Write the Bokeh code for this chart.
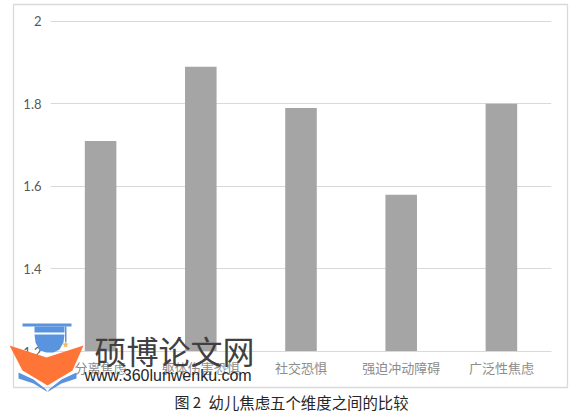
from bokeh.plotting import figure
from bokeh.embed import file_html
from bokeh.resources import INLINE
from bokeh.core.properties import value
from bokeh.models import FixedTicker, NumeralTickFormatter, Range1d

categories = ["分离焦虑", "躯体伤害恐惧", "社交恐惧", "强迫冲动障碍", "广泛性焦虑"]
values = [1.71, 1.89, 1.79, 1.58, 1.80]
y_ticks = [1.2, 1.4, 1.6, 1.8, 2.0]
caption_no = "图 2"
caption = "幼儿焦虑五个维度之间的比较"
wm_title = "硕博论文网"
wm_url = "www.360lunwenku.com"

W, H = 585, 413
PAGE_STYLE = {"position": "absolute", "left": "0px", "top": "0px"}

p = figure(width=W, height=H, x_range=categories, y_range=(1.2, 2.002),
           output_backend="svg", toolbar_location=None,
           min_border_left=50, min_border_right=34, min_border_top=20, min_border_bottom=62,
           outline_line_color=None, background_fill_color="white", border_fill_color="white")
p.styles = PAGE_STYLE

p.vbar(x=categories, top=values, bottom=1.2, width=0.315, color="#a5a5a5", line_color=None)

p.xgrid.visible = False
p.ygrid.grid_line_color = "#d9d9d9"
p.ygrid.grid_line_width = 1
p.ygrid.ticker = FixedTicker(ticks=y_ticks)

p.yaxis.ticker = FixedTicker(ticks=y_ticks)
p.yaxis.formatter = NumeralTickFormatter(format="0.[0]")
p.yaxis.axis_line_color = None
p.yaxis.major_tick_line_color = None
p.yaxis.minor_tick_line_color = None
p.yaxis.major_label_standoff = 3
p.yaxis.major_label_text_font = "Lato"
p.yaxis.major_label_text_font_size = "13px"
p.yaxis.major_label_text_color = "#595959"

p.xaxis.axis_line_color = "#d9d9d9"
p.xaxis.major_tick_line_color = None
p.xaxis.minor_tick_line_color = None
p.xaxis.major_label_standoff = 0
p.xaxis.major_label_text_font = "Noto Sans CJK SC"
p.xaxis.major_label_text_font_size = "13px"
p.xaxis.major_label_text_color = "#8c8c8c"
p.xaxis.major_label_orientation = "horizontal"

# transparent page-sized layer for the picture's frame, caption and watermark
o = figure(width=W, height=H, x_range=Range1d(0, W), y_range=Range1d(H, 0),
           output_backend="svg", toolbar_location=None,
           x_axis_location=None, y_axis_location=None,
           min_border_left=0, min_border_right=0, min_border_top=0, min_border_bottom=0,
           outline_line_color=None, background_fill_alpha=0, border_fill_alpha=0)
o.styles = PAGE_STYLE
o.grid.visible = False


def label(x, y, text, font, size, color):
    o.text(x=[x], y=[y], text=[text], text_font=value(font), text_font_size=value(size),
           text_color=color, text_align="left", text_baseline="middle")


o.patch([13, 567, 567, 13, 13], [4, 4, 387, 387, 4], fill_alpha=0, line_color="#d9d9d9", line_width=1.3)
label(174, 401, caption_no, "Noto Sans CJK SC", "15px", "#262626")
label(208, 401, caption, "Noto Sans CJK SC", "15.4px", "#262626")

CAP = "#5b94de"
ORANGE = "#ff7538"
o.patch([22, 71, 71, 22], [323, 323, 326, 326], color=CAP, line_color=None)
o.patch([34, 64, 64, 34], [326, 326, 332, 332], color=CAP, line_color=None)
o.patch([34, 64, 63, 59, 53, 46, 39, 35], [334, 334, 342, 349, 352, 352, 350, 342], color=CAP, line_color=None)
o.patch([64.5, 66, 66, 64.5], [326, 326, 342, 342], color=CAP, line_color=None)
o.patch([65, 66, 68, 66.5, 67, 65, 63, 63.5, 62, 64], [341, 343, 343, 345, 347, 346, 347, 345, 343, 343],
        color="#f5b95f", line_color=None)
o.patch([18, 33, 45, 47, 33, 18], [372, 379, 388.5, 391.5, 383, 378], color=CAP, line_color=None)
o.patch([76, 61, 49, 47, 61, 76], [372, 379, 388.5, 391.5, 383, 378], color=CAP, line_color=None)
o.patch([9, 46, 83, 72, 47, 22], [345, 357, 345, 370, 385, 370], color=ORANGE, line_color=None)

label(94, 349, wm_title, "Noto Sans CJK SC", "32px", "#404040")
label(84, 375, wm_url, "Liberation Sans", "16px", "#262626")

open("out.html", "w").write(file_html([p, o], INLINE))
